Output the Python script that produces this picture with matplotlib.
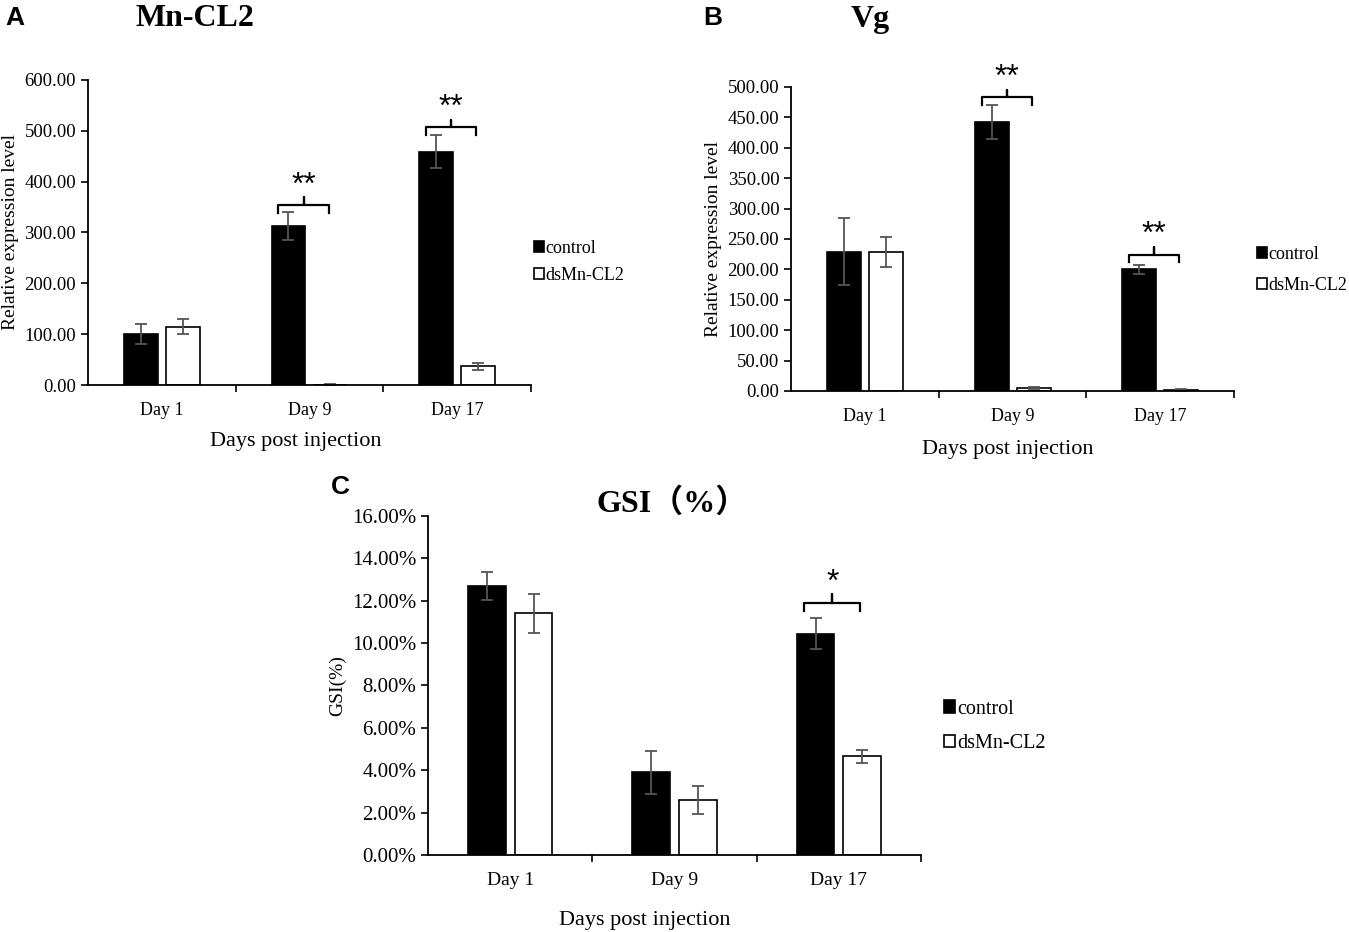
import numpy as np
import matplotlib
matplotlib.use("Agg")
from matplotlib import pyplot as plt
from matplotlib.ticker import FormatStrFormatter, FixedLocator

plt.rcParams['font.family'] = ['Liberation Serif', 'Noto Sans CJK SC', 'DejaVu Sans']

days = ["Day 1", "Day 9", "Day 17"]
groups = ["control", "dsMn-CL2"]

# Mn-CL2 relative expression
mncl2_control = [100.0, 313.0, 459.0]
mncl2_control_err = [20.0, 28.0, 33.0]
mncl2_ds = [115.0, 1.0, 37.0]
mncl2_ds_err = [14.0, 0.5, 7.0]
mncl2_sig = ["", "**", "**"]
mncl2_sig_y = [0, 354.0, 507.0]

# Vg relative expression
vg_control = [229.0, 443.0, 200.0]
vg_control_err = [55.0, 28.0, 7.0]
vg_ds = [229.0, 5.0, 1.0]
vg_ds_err = [25.0, 2.0, 2.0]
vg_sig = ["", "**", "**"]
vg_sig_y = [0, 483.0, 224.0]

# GSI (%)
gsi_control = [12.7, 3.9, 10.45]
gsi_control_err = [0.65, 1.0, 0.75]
gsi_ds = [11.4, 2.6, 4.65]
gsi_ds_err = [0.9, 0.65, 0.3]
gsi_sig = ["", "", "*"]
gsi_sig_y = [0, 0, 11.9]

fig = plt.figure(figsize=(13.49, 9.32), dpi=100)


def draw_panel(rect, ctrl, ctrl_err, ds, ds_err, ymax, ystep, fmt, ylabel,
               sig, sig_y, leg_xy, title, title_xy, letter, letter_xy, xlab_xy,
               tick_fs=13.5, xtick_fs=13, leg_fs=13, leg_sp=0.55):
    ax = fig.add_axes(rect)
    x = np.arange(len(days))
    w = 0.23
    off = 0.142
    ekw = dict(ecolor='#555555', elinewidth=1.3, capsize=4, capthick=1.3)
    ax.bar(x - off, ctrl, w, color='black', edgecolor='black', linewidth=1.2,
           yerr=ctrl_err, error_kw=ekw, label=groups[0], zorder=2)
    ax.bar(x + off, ds, w, color='white', edgecolor='black', linewidth=1.2,
           yerr=ds_err, error_kw=ekw, label=groups[1], zorder=2)

    ax.set_xlim(-0.5, 2.5)
    ax.set_ylim(0, ymax)
    ax.set_yticks(np.arange(0, ymax + ystep / 2, ystep))
    ax.yaxis.set_major_formatter(FormatStrFormatter(fmt))
    ax.set_xticks(x)
    ax.set_xticklabels(days)
    ax.xaxis.set_minor_locator(FixedLocator([0.5, 1.5, 2.5]))
    ax.tick_params(axis='x', which='major', length=0, pad=12, labelsize=xtick_fs)
    ax.tick_params(axis='x', which='minor', length=5, width=1.2, direction='out')
    ax.tick_params(axis='y', length=5, width=1.2, direction='out', labelsize=tick_fs)
    for s in ['top', 'right']:
        ax.spines[s].set_visible(False)
    for s in ['left', 'bottom']:
        ax.spines[s].set_linewidth(1.3)
    ax.set_ylabel(ylabel, fontsize=14)
    ax.set_xlabel("Days post injection", fontsize=16)
    ax.xaxis.set_label_coords(*xlab_xy)

    # significance brackets
    h = ymax * 0.025
    for i, (s, yb) in enumerate(zip(sig, sig_y)):
        if not s:
            continue
        x0, xm, x1 = i - 0.21, i - 0.04, i + 0.13
        ax.plot([x0, x0, xm, xm, xm, x1, x1],
                [yb - h, yb, yb, yb + h, yb, yb, yb - h],
                color='black', lw=1.6, zorder=3)
        ax.text(xm, yb + h * 0.6, s, ha='center', va='bottom', fontsize=23,
                family='Liberation Sans')

    ax.legend(loc='upper left', bbox_to_anchor=leg_xy, frameon=False,
              fontsize=leg_fs, handlelength=0.55, handleheight=0.55,
              handletextpad=0.1, labelspacing=leg_sp, borderaxespad=0)

    fig.text(title_xy[0], title_xy[1], title, fontsize=23, fontweight='bold',
             ha='center', va='center')
    fig.text(letter_xy[0], letter_xy[1], letter, fontsize=19, fontweight='bold',
             ha='center', va='center', family='Liberation Sans')
    return ax


draw_panel([0.0652, 0.5869, 0.3284, 0.3273], mncl2_control, mncl2_control_err,
           mncl2_ds, mncl2_ds_err, 600, 100, '%.2f', "Relative expression level",
           mncl2_sig, mncl2_sig_y, (0.99, 0.50), "Mn-CL2", (195 / 1349, 1 - 18 / 932),
           "A", (15 / 1349, 1 - 18 / 932), (0.47, -0.155))

draw_panel([0.5864, 0.5805, 0.3284, 0.3262], vg_control, vg_control_err,
           vg_ds, vg_ds_err, 500, 50, '%.2f', "Relative expression level",
           vg_sig, vg_sig_y, (1.035, 0.50), "Vg", (870 / 1349, 1 - 19 / 932),
           "B", (713 / 1349, 1 - 18 / 932), (0.49, -0.16), leg_sp=0.75)

draw_panel([0.3173, 0.0826, 0.3655, 0.3638], gsi_control, gsi_control_err,
           gsi_ds, gsi_ds_err, 16, 2, '%.2f%%', "GSI(%)",
           gsi_sig, gsi_sig_y, (1.03, 0.482), "GSI（%）", (672 / 1349, 1 - 503 / 932),
           "C", (340 / 1349, 1 - 487 / 932), (0.44, -0.165),
           tick_fs=15, xtick_fs=14, leg_fs=14.5, leg_sp=0.75)

fig.savefig("out.png", dpi=100)
